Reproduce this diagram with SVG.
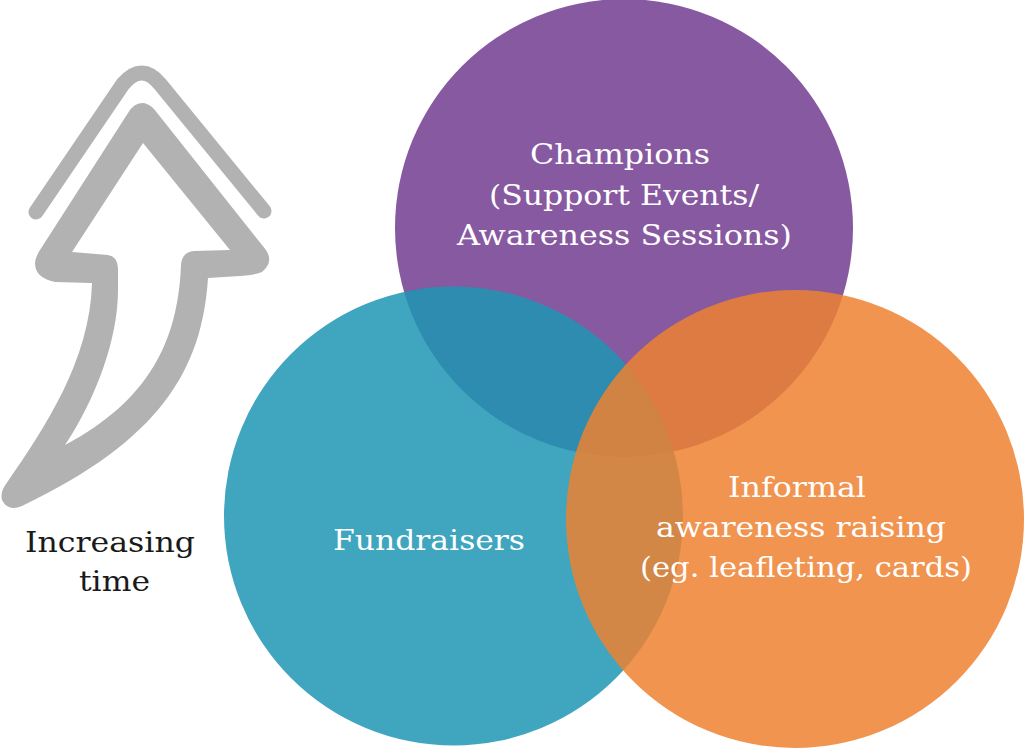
<svg xmlns="http://www.w3.org/2000/svg" width="1024" height="749" viewBox="0 0 1024 749">
<style>
.lbl{font-family:"DejaVu Serif","Liberation Serif",serif;font-size:28px;text-anchor:middle;fill:#ffffff}
.dark{fill:#1a1a1a}
</style>
<rect width="1024" height="749" fill="#ffffff"/>
<g id="arrow" fill="#b2b2b2">
<path d="M36,212 L123,84 Q142,62 160,84 L264,211" fill="none" stroke="#b2b2b2" stroke-width="15" stroke-linecap="round" stroke-linejoin="round"/>
<path fill-rule="evenodd" d="M142,103 C150,103 155,110 158,114 L266,250 Q274,262 262,272 Q255,275 240,276 L208,278 C202,370 160,440 22,506 Q8,512 2,500 Q0,492 6,484 C45,428 90,360 92,283 L55,282 Q35,278 35,263 Q35,258 40,250 L128,113 Q134,103 142,103 Z M143,143 L230,250 L194,251 Q182,252 181,265 C178,340 150,400 65,445 C95,400 118,340 118,290 L118,268 Q117,256 108,255 L72,252 Z"/>
</g>
<g id="champions">
<circle cx="624" cy="228" r="229" fill="#8759a1"/>
</g>
<g id="fundraisers">
<circle cx="453.5" cy="516" r="229.5" fill="#1f95b3" fill-opacity="0.85"/>
</g>
<g id="informal">
<circle cx="795" cy="519" r="229" fill="#ed8131" fill-opacity="0.85"/>
</g>
<g id="labels">
<text class="lbl" x="620" y="164" textLength="180" lengthAdjust="spacingAndGlyphs">Champions</text>
<text class="lbl" x="624" y="205" textLength="270" lengthAdjust="spacingAndGlyphs">(Support Events/</text>
<text class="lbl" x="624.5" y="245" textLength="335" lengthAdjust="spacingAndGlyphs">Awareness Sessions)</text>
<text class="lbl" x="429" y="550" textLength="192" lengthAdjust="spacingAndGlyphs">Fundraisers</text>
<text class="lbl" x="797" y="497" textLength="138" lengthAdjust="spacingAndGlyphs">Informal</text>
<text class="lbl" x="801" y="537" textLength="290" lengthAdjust="spacingAndGlyphs">awareness raising</text>
<text class="lbl" x="806" y="577" textLength="332" lengthAdjust="spacingAndGlyphs">(eg. leafleting, cards)</text>
<text class="lbl dark" x="110" y="552" textLength="170" lengthAdjust="spacingAndGlyphs">Increasing</text>
<text class="lbl dark" x="114.5" y="591" textLength="71" lengthAdjust="spacingAndGlyphs">time</text>
</g>
</svg>
